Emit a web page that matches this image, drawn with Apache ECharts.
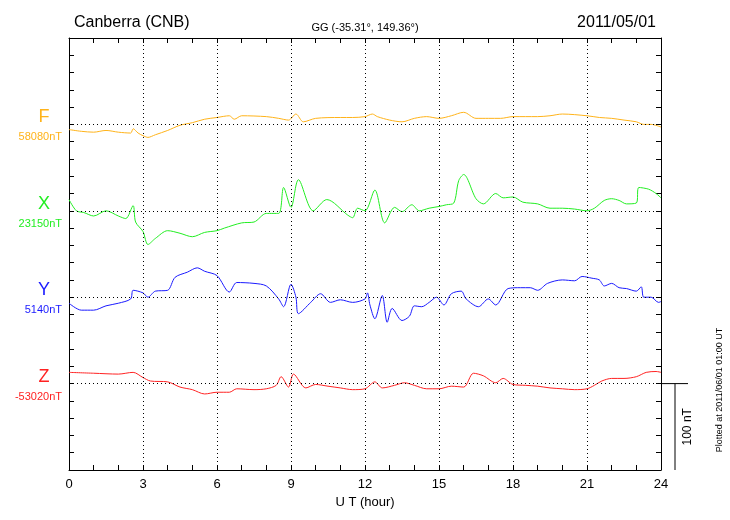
<!DOCTYPE html>
<html><head><meta charset="utf-8">
<script src="https://cdn.jsdelivr.net/npm/echarts@6/dist/echarts.min.js"></script>
<style>body{margin:0;background:#fff}#c{width:730px;height:520px}</style>
</head><body><div id="c"></div>
<script>
// Hours UT and deviations (nT) from each component's baseline
const fT=[0,0.5,1,1.5,2,2.5,2.6,2.8,3,3.2,3.5,4,4.5,5,5.5,6,6.5,6.7,7,8,8.5,8.9,9.2,9.5,10,11,11.5,12,12.3,12.5,13,13.5,14,14.5,15,15.5,16,16.5,17,17.5,18,18.5,19,19.5,20,21,21.5,22,22.5,23,23.3,23.6,24];
const fV=[-6,-8,-9,-7,-9,-10,-5,-10,-13,-15,-12,-7,-1,2,6,8,10,6,10,9,7,5,12,3,7,8,8,9,12,9,5,3,7,9,7,10,14,7,7,7,9,9,9,10,12,10,8,7,5,3,0,0,-3];
const xT=[0,0.3,0.6,1,1.5,2,2.3,2.6,2.7,3,3.2,3.5,4,4.5,5,5.5,6,6.3,7,7.5,8,8.5,8.7,9,9.3,9.9,10.45,11.3,11.5,11.7,12,12.4,12.8,13.2,13.5,13.9,14.2,14.6,15,15.3,15.6,15.8,16,16.5,16.8,17.3,17.6,18,18.4,19,19.5,20,20.5,21,21.3,21.7,22,22.3,22.6,23,23.1,23.5,23.8,24];
const xV=[13,0,-2,-6,0,-6,-9,6,-13,-24,-39,-32,-23,-26,-30,-25,-23,-20,-14,-13,-3,-3,27,4,36,0,13,-5,-8,3,0,24,-14,4,-1,7,0,3,5,7,9,35,42,14,8,20,15,16,10,8,3,3,2,0,3,12,14,12,8,9,27,25,20,15];
const yT=[0,0.5,1,1.5,2,2.5,2.6,3,3.2,3.5,4,4.3,4.8,5.2,5.5,6,6.5,6.8,7.5,8,8.5,8.7,9,9.2,9.3,9.8,10.2,10.6,11,11.5,12,12.1,12.2,12.4,12.7,12.9,13.1,13.5,13.8,14,14.3,14.6,14.9,15.2,15.5,15.9,16.1,16.6,17,17.3,17.8,18.3,18.7,19,19.4,20,20.5,20.8,21.2,21.5,21.7,22,22.3,22.6,23,23.2,23.3,23.6,23.9,24];
const yV=[-7,-15,-15,-10,-7,-2,8,5,0,7,8,23,29,34,30,25,6,17,16,13,-2,-11,15,0,-19,-6,4,-6,-3,-6,-2,5,-9,-25,2,-29,-13,-27,-22,-10,-11,-6,0,-9,4,7,-2,-11,-2,-9,10,11,11,8,16,20,19,24,22,20,13,16,11,10,7,12,0,0,-6,-5];
const zT=[0,1,2,2.6,3,3.3,4,4.5,5,5.5,6,6.5,6.8,7.5,8,8.4,8.6,8.9,9.1,9.6,10,10.5,11,11.5,12,12.4,12.7,13.2,13.6,14,14.5,15,15.5,16,16.4,16.8,17.3,17.6,18,18.5,19,19.5,20,20.5,21,21.3,21.6,22,22.5,23,23.4,23.8,24];
const zV=[13,12,11,13,7,3,2,-4,-7,-12,-10,-10,-6,-7,-6,-2,8,-4,11,-5,-1,-3,-5,-7,-6,2,-5,-2,1,-2,-6,-6,-3,-4,12,9,1,6,-1,-2,-3,-5,-6,-7,-6,-2,3,6,6,8,13,14,13];
const names=['F','X','Y','Z'];
const baseLabels=['58080nT','23150nT','5140nT','-53020nT'];
const offsets=[400,300,200,100];
const colors=['#FFB31A','#22EE22','#1A1AFF','#FF2222'];
const xTickLabels=['0','3','6','9','12','15','18','21','24'];

const T=[fT,xT,yT,zT], V=[fV,xV,yV,zV];
const chart=echarts.init(document.getElementById('c'));
const series=names.map((n,i)=>({type:'line',name:n,showSymbol:false,symbol:'none',smooth:0.3,
  lineStyle:{color:colors[i],width:1},data:T[i].map((t,k)=>[t,V[i][k]+offsets[i]]),z:3}));
series.push({type:'line',data:[],markLine:{silent:true,symbol:'none',label:{show:false},
  lineStyle:{color:'#000',type:[1,3],width:1},
  data:[3,6,9,12,15,18,21].map(v=>({xAxis:v})).concat(offsets.map(v=>({yAxis:v})))}});
const txt={fontFamily:'Liberation Sans, Arial, sans-serif'};
chart.setOption({
  animation:false,
  grid:{left:69,right:69,top:38,bottom:50},
  title:[{text:'Canberra (CNB)',left:69,top:10,textStyle:{...txt,fontSize:16,fontWeight:'normal',color:'#000'}},
    {text:'GG (-35.31°, 149.36°)',left:'center',top:17,textStyle:{...txt,fontSize:11,fontWeight:'normal',color:'#000'}},
    {text:'2011/05/01',right:69,top:10,textStyle:{...txt,fontSize:16,fontWeight:'normal',color:'#000'}}],
  xAxis:[{type:'value',min:0,max:24,interval:1,name:'U T (hour)',nameLocation:'middle',nameGap:26,
    nameTextStyle:{...txt,fontSize:13,color:'#000'},
    axisLine:{show:true,onZero:false,lineStyle:{color:'#000'}},axisTick:{inside:true,length:5,lineStyle:{color:'#000'}},
    axisLabel:{...txt,fontSize:13,color:'#000',margin:8,formatter:v=>v%3===0?xTickLabels[v/3]:''},splitLine:{show:false}},
    {type:'value',min:0,max:24,interval:1,position:'top',axisLine:{show:true,onZero:false,lineStyle:{color:'#000'}},
    axisTick:{inside:true,length:5,lineStyle:{color:'#000'}},axisLabel:{show:false},splitLine:{show:false}}],
  yAxis:[{type:'value',min:0,max:500,interval:20,axisLine:{show:true,onZero:false,lineStyle:{color:'#000'}},
    axisTick:{inside:true,length:5,lineStyle:{color:'#000'}},axisLabel:{show:false},splitLine:{show:false}},
    {type:'value',min:0,max:500,interval:20,position:'right',axisLine:{show:true,onZero:false,lineStyle:{color:'#000'}},
    axisTick:{inside:true,length:5,lineStyle:{color:'#000'}},axisLabel:{show:false},splitLine:{show:false}}],
  series
});
const g=[];
names.forEach((n,i)=>{
  const y=chart.convertToPixel({xAxisIndex:0,yAxisIndex:0},[0,offsets[i]])[1];
  g.push({type:'text',x:44,y:y-7,style:{text:n,...txt,fontSize:18,fill:colors[i],align:'center',verticalAlign:'middle'}});
  g.push({type:'text',x:62,y:y+13,style:{text:baseLabels[i],...txt,fontSize:11,fill:colors[i],align:'right',verticalAlign:'middle'}});
});
const p0=chart.convertToPixel({xAxisIndex:0,yAxisIndex:0},[24,100]);
const p1=chart.convertToPixel({xAxisIndex:0,yAxisIndex:0},[24,0]);
g.push({type:'line',shape:{x1:p0[0],y1:p0[1],x2:p0[0]+27,y2:p0[1]},style:{stroke:'#000',lineWidth:1}});
g.push({type:'line',shape:{x1:p0[0]+14,y1:p0[1],x2:p0[0]+14,y2:p1[1]},style:{stroke:'#000',lineWidth:1}});
g.push({type:'text',x:p0[0]+27,y:(p0[1]+p1[1])/2,rotation:Math.PI/2,style:{text:'100 nT',...txt,fontSize:12,fill:'#000',align:'center',verticalAlign:'middle'}});
g.push({type:'text',x:720,y:390,rotation:Math.PI/2,style:{text:'Plotted at 2011/06/01 01:00 UT',...txt,fontSize:9,fill:'#000',align:'center',verticalAlign:'middle'}});
chart.setOption({graphic:g});
</script></body></html>
